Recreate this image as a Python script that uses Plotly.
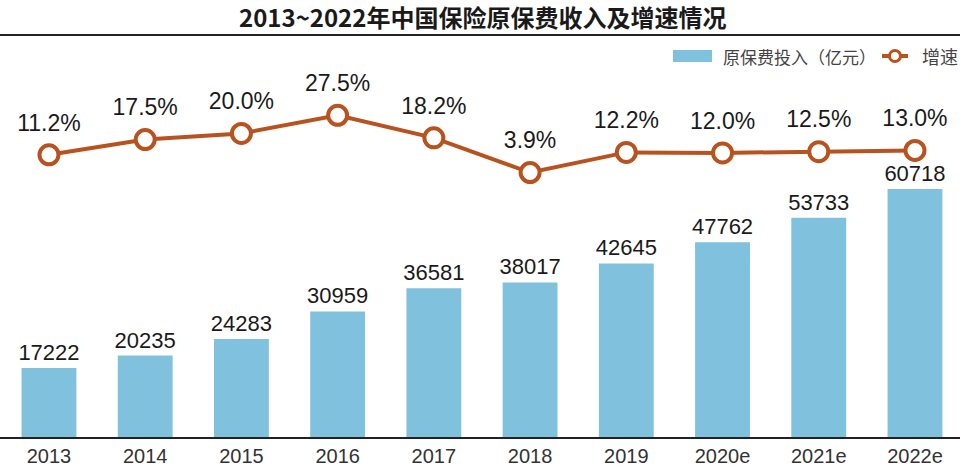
import plotly.graph_objects as go

# ---- data ----
years = ["2013", "2014", "2015", "2016", "2017", "2018", "2019", "2020e", "2021e", "2022e"]
premium = [17222, 20235, 24283, 30959, 36581, 38017, 42645, 47762, 53733, 60718]
growth = [11.2, 17.5, 20.0, 27.5, 18.2, 3.9, 12.2, 12.0, 12.5, 13.0]
title_text = "2013~2022年中国保险原保费收入及增速情况"
bar_name = "原保费投入（亿元）"
line_name = "增速"

BAR_COLOR = "#80c1de"
LINE_COLOR = "#b8531f"
FONT = "Liberation Sans, Arial, Noto Sans CJK SC, sans-serif"
CJK_FONT = "Noto Sans CJK SC, Liberation Sans, sans-serif"

W, H = 960, 467
TOP, BOTTOM = 80, 437  # plot area in pixels


def py(p):
    return (BOTTOM - p) / (BOTTOM - TOP)


def px(p):
    return p / W


fig = go.Figure()

fig.add_trace(go.Bar(
    x=years, y=premium, name=bar_name,
    marker=dict(color=BAR_COLOR, line=dict(width=0)),
    width=0.57,
    text=[str(v) for v in premium],
    textposition="outside",
    constraintext="none",
    textfont=dict(size=22, color="#1a1a1a", family=FONT),
    cliponaxis=True,
    showlegend=False,
))

fig.add_trace(go.Scatter(
    x=years, y=growth, name=line_name, yaxis="y2",
    mode="lines+markers",
    line=dict(color=LINE_COLOR, width=4),
    marker=dict(symbol="circle", size=19, color="white",
                line=dict(color=LINE_COLOR, width=4)),
    cliponaxis=False,
    showlegend=False,
))

# growth labels (same data, larger invisible marker gives the label offset)
fig.add_trace(go.Scatter(
    x=years, y=growth, yaxis="y2",
    mode="markers+text",
    marker=dict(size=28, color="rgba(0,0,0,0)", line=dict(width=0)),
    text=[f"{v:.1f}%" for v in growth],
    textposition="top center",
    textfont=dict(size=23, color="#1a1a1a", family=FONT),
    cliponaxis=False,
    hoverinfo="skip",
    showlegend=False,
))

shapes = [
    # rule under title
    dict(type="line", xref="paper", yref="paper", x0=0, x1=1,
         y0=py(35), y1=py(35), line=dict(color="#222222", width=2)),
    # legend: bar swatch
    dict(type="rect", xref="paper", yref="paper",
         x0=px(673), x1=px(712), y0=py(62), y1=py(50),
         fillcolor=BAR_COLOR, line=dict(width=0)),
    # legend: line symbol
    dict(type="line", xref="paper", yref="paper",
         x0=px(882), x1=px(908), y0=py(56), y1=py(56),
         line=dict(color=LINE_COLOR, width=4)),
    dict(type="circle", xref="paper", yref="paper",
         x0=px(889.5), x1=px(900.5), y0=py(61.5), y1=py(50.5),
         fillcolor="white", line=dict(color=LINE_COLOR, width=3)),
]

annotations = [
    dict(text=title_text, xref="paper", yref="paper", x=px(482), y=py(17),
         xanchor="center", yanchor="middle", showarrow=False,
         font=dict(size=24, color="#1a1a1a", family=CJK_FONT, weight="bold")),
    dict(text=bar_name, xref="paper", yref="paper", x=px(721), y=py(56),
         xanchor="left", yanchor="middle", showarrow=False,
         font=dict(size=17, color="#444444", family=CJK_FONT)),
    dict(text=line_name, xref="paper", yref="paper", x=px(920), y=py(56),
         xanchor="left", yanchor="middle", showarrow=False,
         font=dict(size=18, color="#444444", family=CJK_FONT)),
]

fig.update_layout(
    width=W, height=H,
    margin=dict(l=0, r=0, t=TOP, b=H - BOTTOM, pad=0),
    paper_bgcolor="white", plot_bgcolor="white",
    xaxis=dict(type="category", range=[-0.509, 9.468],
               showline=True, linecolor="#222222", linewidth=1.5,
               ticks="", showgrid=False, zeroline=False,
               tickfont=dict(size=20, color="#333333", family=FONT)),
    yaxis=dict(range=[454, 87215], visible=False, showgrid=False, zeroline=False),
    yaxis2=dict(range=[-105.07, 42.03], overlaying="y", visible=False,
                showgrid=False, zeroline=False),
    shapes=shapes,
    annotations=annotations,
    showlegend=False,
    bargap=0.4,
)

fig.write_html(
    "out.html",
    config={"displayModeBar": False},
    post_script="document.body.style.margin='0';document.body.style.padding='0';"
                "document.body.style.overflow='hidden';"
                "document.documentElement.style.overflow='hidden';",
)
